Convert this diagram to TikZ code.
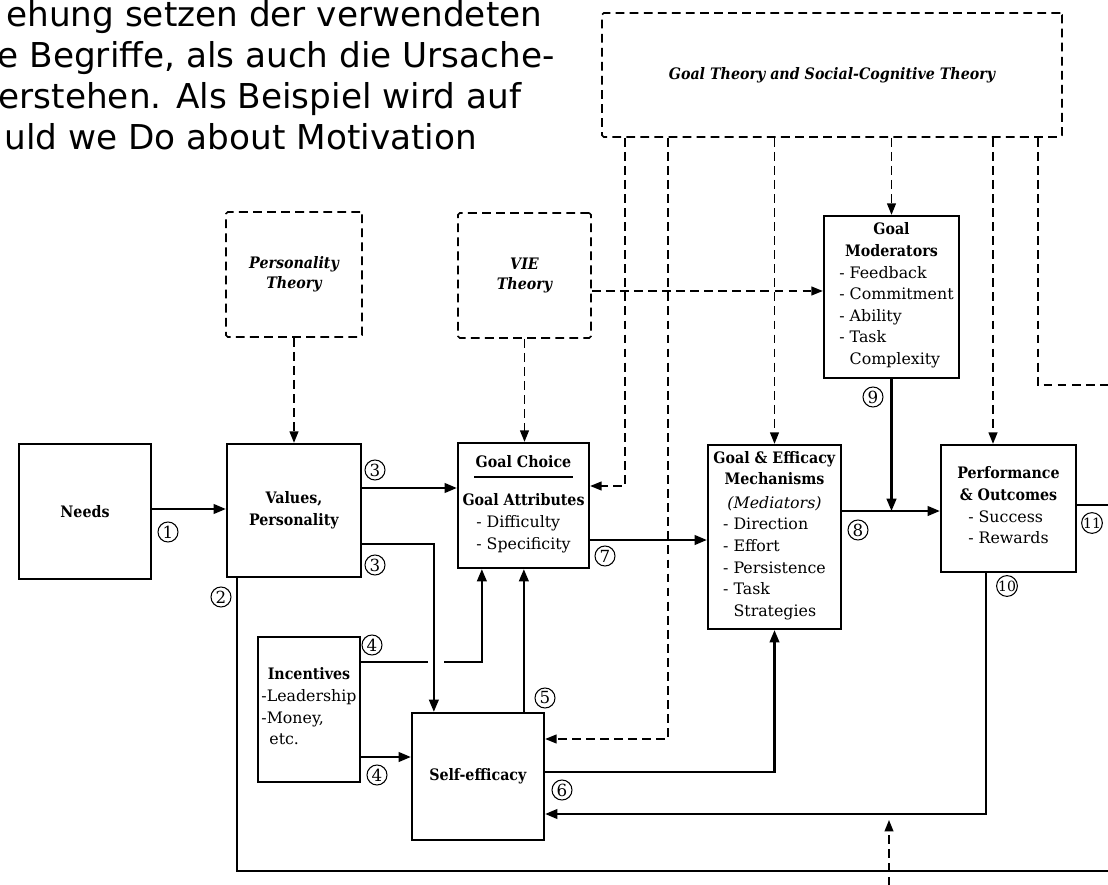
\documentclass[tikz,border=0pt]{standalone}
\usepackage{fontspec}
\setmainfont{DejaVu Serif}[BoldFont={DejaVu Serif Condensed Bold}, BoldItalicFont={DejaVu Serif Condensed Bold Italic}]
\newfontfamily\notefont{DejaVu Sans}
\usetikzlibrary{arrows.meta, positioning}
\tikzset{
  stagebox/.style={draw, line width=1.3pt, align=center, inner sep=1pt, font=\fontsize{9}{12.3}\selectfont},
  theorybox/.style={draw, line width=0.9pt, dash pattern=on 5pt off 3pt, rounded corners=1pt, align=center, font=\fontsize{9}{11.5}\selectfont\bfseries\itshape},
  flowarr/.style={line width=1.2pt, -{Triangle[length=7pt, width=5.5pt]}},
  flowline/.style={line width=1.2pt},
  dasharr/.style={line width=0.9pt, dash pattern=on 5pt off 3pt, -{Triangle[length=6.5pt, width=5pt]}},
  dashline/.style={line width=0.9pt, dash pattern=on 5pt off 3pt},
  stepnum/.style={circle, draw, line width=0.6pt, inner sep=0pt, minimum size=0.4cm, font=\fontsize{9.5}{9.5}\selectfont},
  notetext/.style={anchor=base west, font=\notefont\fontsize{19.5}{24}\selectfont},
}

\begin{document}
\begin{tikzpicture}
  \useasboundingbox (0,0) rectangle (22.16,-17.70);

  % cut-off text of the page
  \node[notetext] (l1) at (0.00,-0.53) {ehung setzen der verwendeten};
  \node[notetext] (l2) at (-0.17,-1.35) {e Begriffe, als auch die Ursache-};
  \node[notetext] (l3) at (-0.15,-2.17) {erstehen. Als Beispiel wird auf};
  \node[notetext] (l4) at (-0.03,-2.99) {uld we Do about Motivation};

  % theories
  \node[theorybox, minimum width=9.20cm, minimum height=2.48cm] (goalth) at (16.64,-1.50) {Goal Theory and Social-Cognitive Theory};
  \node[theorybox, minimum width=2.72cm, minimum height=2.50cm] (persth) at (5.88,-5.49) {Personality\\Theory};
  \node[theorybox, minimum width=2.66cm, minimum height=2.50cm] (vieth) at (10.49,-5.51) {VIE\\Theory};

  % stages
  \node[stagebox, minimum width=2.64cm, minimum height=2.70cm] (needs) at (1.70,-10.23) {\textbf{Needs}};
  \node[stagebox, minimum width=2.68cm, minimum height=2.66cm] (values) at (5.88,-10.21) {\textbf{Values,}\\\textbf{Personality}};
  \node[stagebox, minimum width=2.62cm, minimum height=2.50cm] (goalchoice) at (10.47,-10.11)
    {\textbf{Goal Choice}\\[-6.5pt]\rule{1.98cm}{0.9pt}\\[3.7pt]\textbf{Goal Attributes}\\
     \begin{tabular}[t]{@{}l@{}}- Difficulty\\- Specificity\end{tabular}};
  \node[stagebox, minimum width=2.66cm, minimum height=3.68cm] (mech) at (15.49,-10.74)
    {\textbf{Goal \& Efficacy}\\\textbf{Mechanisms}\\[1pt]\textit{(Mediators)}\\
     \begin{tabular}[t]{@{}l@{}}- Direction\\- Effort\\- Persistence\\- Task\\\hphantom{- }Strategies\end{tabular}};
  \node[stagebox, minimum width=2.70cm, minimum height=2.54cm] (perf) at (20.17,-10.17)
    {\textbf{Performance}\\\textbf{\& Outcomes}\\
     \begin{tabular}[t]{@{}l@{}}- Success\\- Rewards\end{tabular}};
  \node[stagebox, minimum width=2.70cm, minimum height=3.24cm] (moder) at (17.83,-5.94)
    {\textbf{Goal}\\\textbf{Moderators}\\
     \hspace*{0.2cm}\begin{tabular}[t]{@{}l@{}}- Feedback\\- Commitment\\- Ability\\- Task\\\hphantom{- }Complexity\end{tabular}};
  \node[stagebox, minimum width=2.04cm, minimum height=2.90cm] (incent) at (6.18,-14.19)
    {\textbf{Incentives}\\
     \begin{tabular}[t]{@{}l@{}}-Leadership\\-Money,\\\hphantom{-\,}etc.\end{tabular}};
  \node[stagebox, minimum width=2.64cm, minimum height=2.54cm] (selfeff) at (9.56,-15.53) {\textbf{Self-efficacy}};

  % free ends at the page edge
  \coordinate (botR) at (22.5,-17.42);
  \coordinate (dR) at (22.5,-7.70);
  \coordinate (dB) at (17.78,-18.0);
  \coordinate (dT) at (17.78,-16.40);

  % solid links
  \draw[flowarr] ([yshift=.05cm]needs.east) -- ([yshift=.05cm]needs.east -| values.west);
  \draw[flowarr] ([yshift=.45cm]values.east) -- ([yshift=.45cm]values.east -| goalchoice.west);
  \draw[flowarr] ([yshift=-.67cm]values.east) -| ([xshift=.46cm]selfeff.north west);
  \draw[flowline] ([xshift=.22cm]values.south west) |- (botR);
  \draw[flowline] ([yshift=.95cm]incent.east) -- ++(1.34,0);
  \draw[flowarr] ([shift={(1.66,.95)}]incent.east) -| ([xshift=.5cm]goalchoice.south west);
  \draw[flowarr] ([yshift=-.95cm]incent.east) -- ([yshift=-.95cm]incent.east -| selfeff.west);
  \draw[flowarr] ([xshift=2.26cm]selfeff.north west) -- ([xshift=2.26cm]selfeff.north west |- goalchoice.south);
  \draw[flowarr] ([yshift=-.69cm]goalchoice.east) -- ([yshift=-.69cm]goalchoice.east -| mech.west);
  \coordinate (j8) at ([yshift=.52cm]mech.east);
  \draw[flowarr] (j8) -- (j8 -| perf.west);
  \draw[flowarr] (moder.south) -- (moder.south |- j8);
  \draw[flowarr] ([yshift=.09cm]selfeff.east) -| (mech.south);
  \draw[flowarr] ([xshift=-.45cm]perf.south) |- ([yshift=-.75cm]selfeff.east);
  \draw[flowline] ([yshift=.07cm]perf.east) -- ([yshift=.07cm]perf.east -| botR);

  % dashed links
  \draw[dasharr] (persth.south) -- (values.north);
  \draw[dasharr] (vieth.south) -- (vieth.south |- goalchoice.north);
  \draw[dasharr] ([yshift=-.31cm]vieth.east) -- ([yshift=-.31cm]vieth.east -| moder.west);
  \draw[dasharr] ([xshift=.48cm]goalth.south west) |- ([yshift=.39cm]goalchoice.east);
  \draw[dasharr] ([xshift=1.34cm]goalth.south west) |- ([yshift=.75cm]selfeff.east);
  \draw[dasharr] (goalth.south -| mech.north) -- (mech.north);
  \draw[dasharr] (goalth.south -| moder.north) -- (moder.north);
  \draw[dasharr] ([xshift=-.31cm]perf.north |- goalth.south) -- ([xshift=-.31cm]perf.north);
  \draw[dashline] ([xshift=-.5cm]goalth.south east) |- (dR);
  \draw[dasharr] (dB) -- (dT);

  % numbers
  \node[stepnum] (n1) at (3.36,-10.64) {1};
  \node[stepnum] (n2) at (4.42,-11.94) {2};
  \node[stepnum] (n3a) at (7.50,-9.40) {3};
  \node[stepnum] (n3b) at (7.50,-11.30) {3};
  \node[stepnum] (n4a) at (7.44,-12.90) {4};
  \node[stepnum] (n4b) at (7.54,-15.50) {4};
  \node[stepnum] (n5) at (10.90,-13.96) {5};
  \node[stepnum] (n6) at (11.24,-15.80) {6};
  \node[stepnum] (n7) at (12.10,-11.12) {7};
  \node[stepnum] (n8) at (17.16,-10.60) {8};
  \node[stepnum] (n9) at (17.46,-7.94) {9};
  \node[stepnum, font=\fontsize{8}{8}\selectfont] (n10) at (20.14,-11.72) {10};
  \node[stepnum, font=\fontsize{8}{8}\selectfont] (n11) at (21.84,-10.46) {11};
\end{tikzpicture}
\end{document}
